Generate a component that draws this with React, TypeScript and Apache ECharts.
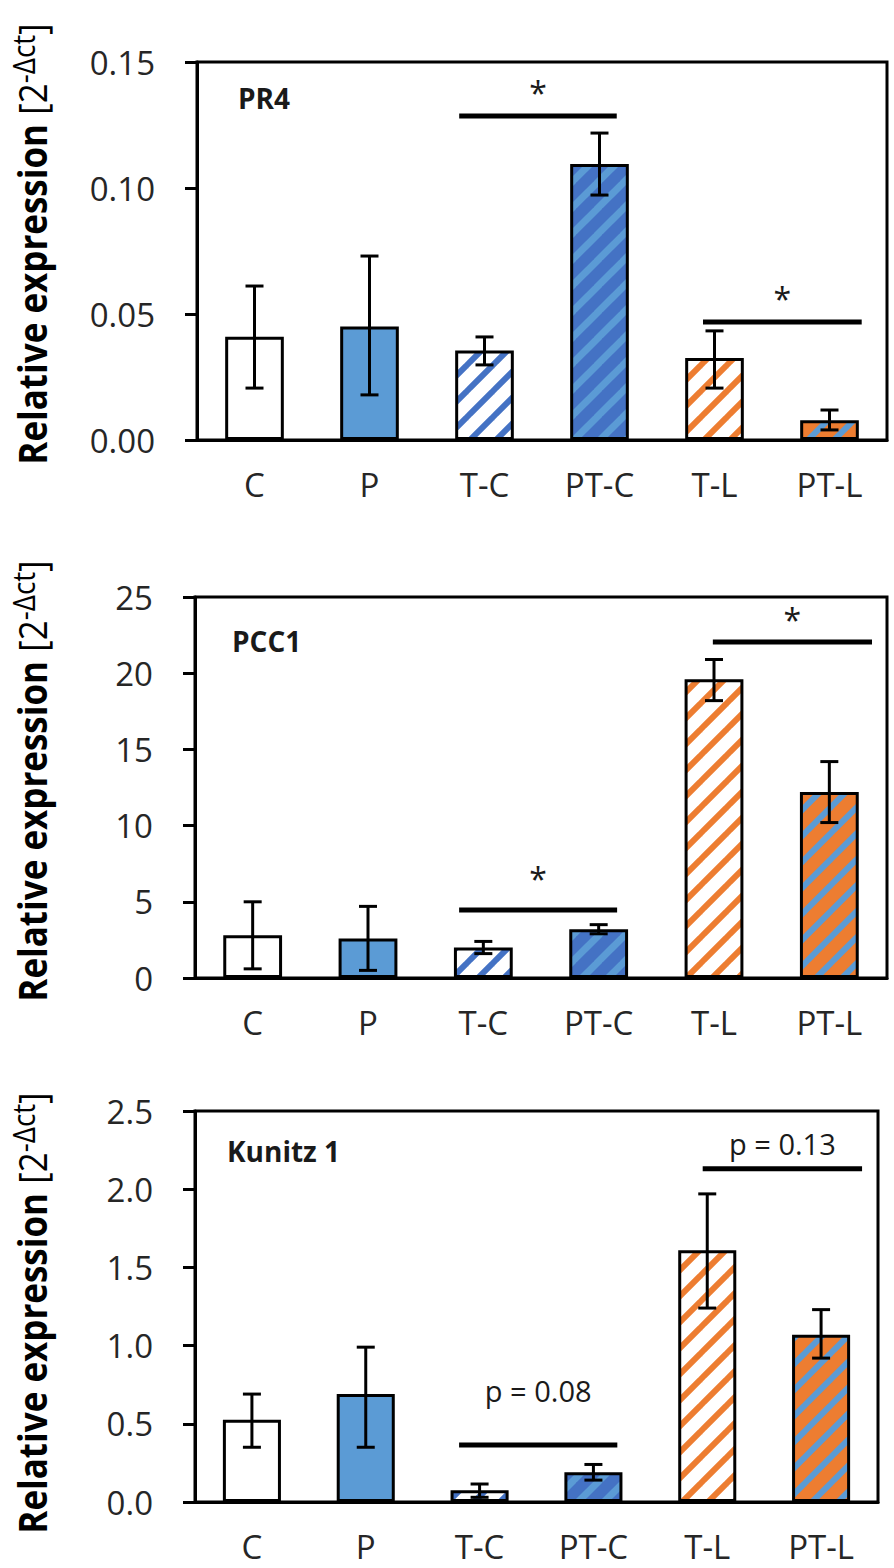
import React, { useEffect, useRef } from 'react';
import * as echarts from 'echarts';

const categories = ['C', 'P', 'T-C', 'PT-C', 'T-L', 'PT-L'];

const pr4Values = [0.041, 0.045, 0.0355, 0.1095, 0.0325, 0.0078];
const pr4Low = [0.0206, 0.0179, 0.0298, 0.0972, 0.0206, 0.004];
const pr4High = [0.0611, 0.073, 0.0409, 0.1218, 0.0433, 0.0119];

const pcc1Values = [2.8, 2.6, 2.0, 3.2, 19.6, 12.2];
const pcc1Low = [0.6, 0.5, 1.6, 2.9, 18.2, 10.2];
const pcc1High = [5.0, 4.7, 2.4, 3.5, 20.9, 14.2];

const kunitzValues = [0.526, 0.69, 0.075, 0.19, 1.61, 1.07];
const kunitzLow = [0.35, 0.35, 0.03, 0.14, 1.24, 0.92];
const kunitzHigh = [0.69, 0.99, 0.115, 0.24, 1.97, 1.23];

// [from (category units), to, line y, label y, label]
const pr4Sig: [number, number, number, number, string][] = [
  [1.78, 3.15, 0.1286, 0.138, '*'],
  [3.9, 5.28, 0.0468, 0.056, '*'],
];
const pcc1Sig: [number, number, number, number, string][] = [
  [1.79, 3.16, 4.46, 6.5, '*'],
  [3.99, 5.37, 22.05, 23.5, '*'],
];
const kunitzSig: [number, number, number, number, string][] = [
  [1.82, 3.21, 0.365, 0.71, 'p = 0.08'],
  [3.96, 5.36, 2.13, 2.29, 'p = 0.13'],
];

const panelNames = ['PR4', 'PCC1', 'Kunitz 1'];
const yMax = [0.15, 25, 2.5];
const yInterval = [0.05, 5, 0.5];
const yDecimals = [2, 0, 1];

const FONT = 'Open Sans';

function stripe(bg: string, fg: string, T = 26, w = 7) {
  const c = document.createElement('canvas');
  c.width = T;
  c.height = T;
  const ctx = c.getContext('2d')!;
  ctx.fillStyle = bg;
  ctx.fillRect(0, 0, T, T);
  ctx.strokeStyle = fg;
  ctx.lineWidth = w;
  for (const k of [-1, 0, 1]) {
    ctx.beginPath();
    ctx.moveTo(k * T - 2, T + 2);
    ctx.lineTo(k * T + T + 2, -2);
    ctx.stroke();
  }
  return { image: c, repeat: 'repeat', imageWidth: T, imageHeight: T } as any;
}

export default function App() {
  const ref = useRef<HTMLDivElement>(null);
  useEffect(() => {
    const chart = echarts.init(ref.current!, null, { renderer: 'svg' });
    const fills = [
      '#FFFFFF',
      '#5B9BD5',
      stripe('#FFFFFF', '#4472C4', 26, 6),
      stripe('#4472C4', '#5B9BD5', 26, 7),
      stripe('#FFFFFF', '#ED7D31', 26, 6),
      stripe('#ED7D31', '#5B9BD5', 26, 6),
    ];
    const grids = [
      { left: 197, top: 62, width: 690, height: 378 },
      { left: 195, top: 597, width: 692, height: 381 },
      { left: 195, top: 1111, width: 683, height: 391 },
    ];
    const titleTops = [84, 627, 1137];
    const titleLefts = [238, 232, 227];
    const yTitleCenters = [244, 781, 1313];
    const vals = [pr4Values, pcc1Values, kunitzValues];
    const lows = [pr4Low, pcc1Low, kunitzLow];
    const highs = [pr4High, pcc1High, kunitzHigh];
    const sigs = [pr4Sig, pcc1Sig, kunitzSig];

    const series: any[] = [];
    vals.forEach((v, p) => {
      series.push({
        type: 'bar',
        xAxisIndex: p,
        yAxisIndex: p,
        barWidth: '51%',
        z: 2,
        data: v.map((val, i) => ({
          value: val,
          itemStyle: { color: fills[i], borderColor: '#000', borderWidth: 3 },
        })),
      });
      series.push({
        type: 'custom',
        xAxisIndex: p,
        yAxisIndex: p,
        z: 5,
        encode: { x: 0, y: [1, 2] },
        data: lows[p].map((lo, i) => [i, lo, highs[p][i]]),
        renderItem: (params: any, api: any) => {
          const idx = api.value(0);
          const lo = api.coord([idx, api.value(1)]);
          const hi = api.coord([idx, api.value(2)]);
          const hw = 9;
          const style = { stroke: '#000', lineWidth: 3 };
          return {
            type: 'group',
            children: [
              { type: 'line', shape: { x1: hi[0], y1: hi[1], x2: lo[0], y2: lo[1] }, style },
              { type: 'line', shape: { x1: hi[0] - hw, y1: hi[1], x2: hi[0] + hw, y2: hi[1] }, style },
              { type: 'line', shape: { x1: lo[0] - hw, y1: lo[1], x2: lo[0] + hw, y2: lo[1] }, style },
            ],
          };
        },
      });
      const sig = sigs[p];
      series.push({
        type: 'custom',
        xAxisIndex: p,
        yAxisIndex: p,
        z: 5,
        data: sig.map((s) => [0, s[2]]),
        renderItem: (params: any, api: any) => {
          const s = sig[params.dataIndex];
          const c0 = api.coord([0, s[2]]);
          const bw = api.size([1, 0])[0];
          const x1 = c0[0] + s[0] * bw;
          const x2 = c0[0] + s[1] * bw;
          const t = api.coord([0, s[3]]);
          const isStar = s[4] === '*';
          return {
            type: 'group',
            children: [
              { type: 'line', shape: { x1, y1: c0[1], x2, y2: c0[1] }, style: { stroke: '#000', lineWidth: 5 } },
              {
                type: 'text',
                x: (x1 + x2) / 2,
                y: t[1],
                style: {
                  text: s[4],
                  fontFamily: FONT,
                  fontSize: isStar ? 32 : 29,
                  fill: '#1a1a1a',
                  align: 'center',
                  verticalAlign: 'middle',
                },
              },
            ],
          };
        },
      });
    });

    const option: any = {
      animation: false,
      grid: grids.map((g) => ({ ...g, show: true, borderColor: '#000', borderWidth: 3 })),
      title: panelNames.map((n, p) => ({
        text: n,
        left: titleLefts[p],
        top: titleTops[p],
        padding: 0,
        textStyle: { fontFamily: FONT, fontWeight: 'bold', fontSize: 28, color: '#1a1a1a' },
      })),
      xAxis: grids.map((g, p) => ({
        type: 'category',
        gridIndex: p,
        data: categories,
        axisLine: { lineStyle: { color: '#000', width: 3 } },
        axisTick: { show: false },
        axisLabel: { margin: 28, fontFamily: FONT, fontSize: 33, color: '#262626' },
      })),
      yAxis: grids.map((g, p) => ({
        type: 'value',
        gridIndex: p,
        min: 0,
        max: yMax[p],
        interval: yInterval[p],
        splitLine: { show: false },
        axisLine: { show: true, lineStyle: { color: '#000', width: 3 } },
        axisTick: { show: true, length: 12, lineStyle: { color: '#000', width: 3 } },
        axisLabel: {
          margin: 42,
          fontFamily: FONT,
          fontSize: 33,
          color: '#262626',
          formatter: (v: number) => v.toFixed(yDecimals[p]),
        },
      })),
      graphic: yTitleCenters.map((cy) => ({
        type: 'text',
        x: 32,
        y: cy,
        rotation: Math.PI / 2,
        scaleY: 1.12,
        style: {
          text: '{b|Relative expression }{n|[2}{s|-Δct}{n|]}',
          align: 'center',
          verticalAlign: 'middle',
          rich: {
            b: { fontFamily: FONT, fontWeight: 'bold', fontSize: 35, fill: '#000', lineHeight: 44 },
            n: { fontFamily: FONT, fontSize: 35, fill: '#000', lineHeight: 44 },
            s: { fontFamily: FONT, fontSize: 28, fill: '#000', verticalAlign: 'top', lineHeight: 44 },
          },
        },
      })),
      series,
    };
    chart.setOption(option);
    return () => chart.dispose();
  }, []);
  return (
    <div
      ref={ref}
      style={{ position: 'absolute', left: 0, top: 0, width: 894, height: 1568, background: '#fff' }}
    />
  );
}
